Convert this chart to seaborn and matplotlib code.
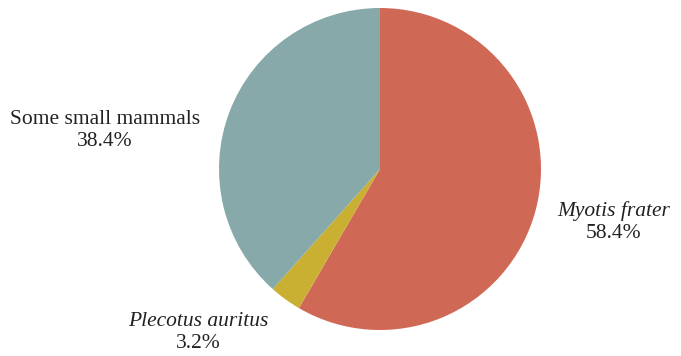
#Pie chart of prey composition (recreated)

#Dependencies
import matplotlib
matplotlib.use("Agg")
import matplotlib.pyplot as plt
import seaborn as sns

#Data
groups = ["Myotis frater", "Plecotus auritus", "Some small mammals"]
shares = [58.4, 3.2, 38.4]
italic = [True, True, False]
colours = ["#d06856", "#c9b032", "#87a9a9"]

sns.set_theme(style="white")
plt.rcParams['font.family'] = ['Liberation Serif', 'DejaVu Serif']

fig = plt.figure(figsize=(6.81, 3.56), dpi=100)
ax = fig.add_axes([0, 0, 1, 1])

ax.pie(shares, colors=colours, startangle=90, counterclock=False,
       radius=1, wedgeprops=dict(linewidth=0))

#axis limits so the pie sits where it does in the original (radius ~161 px)
r_px = 161
cx, cy = 380, 169   #pie centre, pixels from top-left
ax.set_xlim(-cx / r_px, (681 - cx) / r_px)
ax.set_ylim(-(356 - cy) / r_px, cy / r_px)
ax.set_aspect("equal")
ax.axis("off")

#label positions in pixels (from top-left) -> data units
label_px = [(614, 211), (198, 321), (105, 119)]
for name, pct, it, (px, py) in zip(groups, shares, italic, label_px):
    x = (px - cx) / r_px
    y = (cy - py) / r_px
    ax.text(x, y, name, ha="center", va="center", fontsize=15.5,
            style="italic" if it else "normal", color="#222222")
    ax.text(x, y - 22 / r_px, f"{pct}%", ha="center", va="center",
            fontsize=15.5, color="#222222")

fig.savefig("out.png", dpi=100)
